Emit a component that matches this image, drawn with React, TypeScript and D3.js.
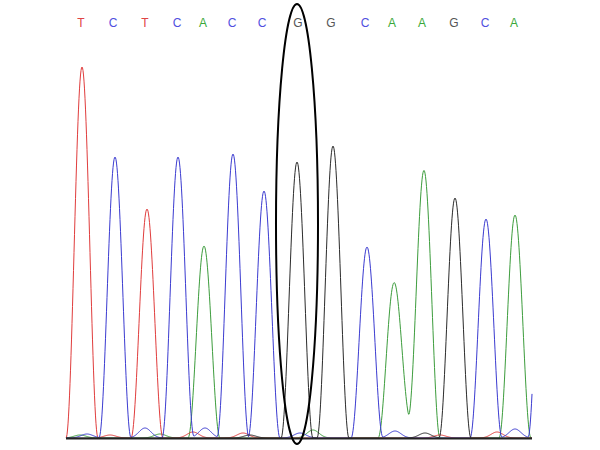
import * as d3 from 'd3'

// base calls shown along the top
const baseCalls = ['T', 'C', 'T', 'C', 'A', 'C', 'C', 'G', 'G', 'C', 'A', 'A', 'G', 'C', 'A']
const callPos = [15, 47, 79, 111, 137, 166, 196, 232, 265, 299, 326, 356, 388, 419, 448]

// main trace peaks (scan position, signal)
const peakBase = ['T', 'C', 'T', 'C', 'A', 'C', 'C', 'G', 'G', 'C', 'A', 'A', 'G', 'C', 'A', 'C']
const peakPos = [16, 49, 81, 112, 138, 167, 198, 231, 267, 301, 328, 358, 389, 420, 449, 478]
const peakHeight = [371, 281, 229, 281, 192, 284, 247, 276, 292, 191, 154, 267, 240, 219, 223, 300]

// small background bumps along the baseline
const minorBase = ['C', 'C', 'C', 'C', 'C', 'C', 'T', 'T', 'T', 'T', 'T', 'A', 'A', 'A', 'A', 'G', 'G']
const minorPos = [21, 79, 139, 234, 329, 449, 44, 127, 177, 374, 431, 14, 94, 247, 342, 359, 184]
const minorHeight = [4, 10, 10, 5, 7, 9, 3, 6, 5, 3, 6, 3, 4, 8, 20, 5, 3]

const selectedCall = 7

const COLORS: Record<string, string> = { A: '#3c9c3c', C: '#3a3ad0', G: '#2a2a2a', T: '#e03c3c' }
const LABEL_COLORS: Record<string, string> = { A: '#3aa83a', C: '#5050e0', G: '#555555', T: '#e04444' }

const W = 600
const H = 450
const HALF = 16 // half base width of a peak, in scans

const peakShape = (d: number) => (Math.abs(d) >= HALF ? 0 : Math.cos((Math.PI * d) / (2 * HALF)) ** 2)

export default function App() {
  const x = d3.scaleLinear().domain([0, 466]).range([66, 532])
  const y = d3.scaleLinear().domain([0, 400]).range([438, 38])

  const scans = d3.range(0, 466.01, 0.5)

  const trace = (ch: string) =>
    scans.map((s) => {
      let v = 0
      peakBase.forEach((b, i) => {
        if (b === ch) v += peakHeight[i] * peakShape(s - peakPos[i])
      })
      minorBase.forEach((b, i) => {
        if (b === ch) v += minorHeight[i] * Math.exp(-((s - minorPos[i]) ** 2) / (2 * 6 * 6))
      })
      return [s, v] as [number, number]
    })

  const line = d3
    .line<[number, number]>()
    .x((d) => x(d[0]))
    .y((d) => y(d[1]))

  const sel = callPos[selectedCall]

  return (
    <svg width={W} height={H} style={{ position: 'absolute', left: 0, top: 0, background: '#fff' }}>
      {baseCalls.map((b, i) => (
        <text
          key={i}
          x={x(callPos[i])}
          y={27}
          textAnchor="middle"
          fontFamily="Liberation Sans, Arial, sans-serif"
          fontSize={12}
          fill={LABEL_COLORS[b]}
        >
          {b}
        </text>
      ))}
      {['A', 'T', 'C', 'G'].map((ch) => (
        <path key={ch} d={line(trace(ch)) || ''} fill="none" stroke={COLORS[ch]} strokeWidth={1} />
      ))}
      <line x1={x(0)} x2={x(466)} y1={y(0) + 0.5} y2={y(0) + 0.5} stroke="#222" strokeWidth={2} />
      <ellipse
        cx={x(sel) - 1}
        cy={224}
        rx={21}
        ry={220}
        fill="none"
        stroke="#000"
        strokeWidth={2}
      />
    </svg>
  )
}
